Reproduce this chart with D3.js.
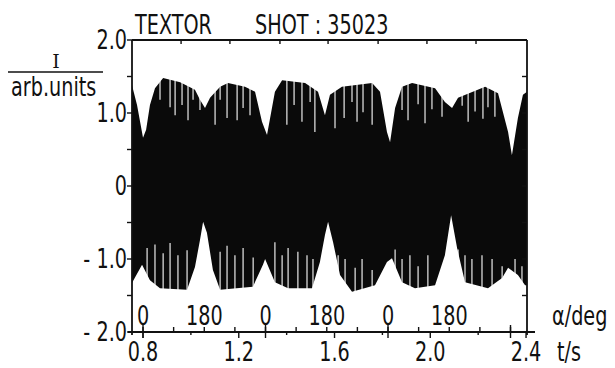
<!DOCTYPE html>
<html lang="en">
<head>
<meta charset="UTF-8">
<title>TEXTOR shot 35023</title>
<script src="https://d3js.org/d3.v7.min.js"></script>
<style>
  body { margin: 0; background: #fff; }
  text { font-family: "DejaVu Sans", sans-serif; fill: #111; }
</style>
</head>
<body>
<div id="chart"></div>
<script>
// envelope of the signal (t in s, I in arb. units)
var upperT = [0.754, 0.775, 0.800, 0.813, 0.829, 0.850, 0.884, 0.955, 1.017, 1.038, 1.059, 1.080, 1.122, 1.155, 1.226, 1.268,
              1.297, 1.318, 1.331, 1.351, 1.381, 1.477, 1.531, 1.560, 1.581, 1.631, 1.757, 1.790, 1.819, 1.832, 1.853, 1.882,
              1.924, 2.020, 2.061, 2.091, 2.116, 2.229, 2.283, 2.325, 2.341, 2.366, 2.387, 2.404]
var upperV = [1.38, 1.11, 0.66, 0.77, 1.11, 1.34, 1.48, 1.42, 1.32, 1.18, 1.07, 1.21, 1.36, 1.41, 1.36, 1.29,
              0.88, 0.70, 0.93, 1.29, 1.45, 1.41, 1.29, 0.97, 1.25, 1.36, 1.41, 1.29, 0.74, 0.60, 1.07, 1.36,
              1.41, 1.34, 1.15, 1.07, 1.21, 1.36, 1.27, 0.74, 0.42, 0.93, 1.25, 1.29]
var lowerT = [0.754, 0.767, 0.796, 0.829, 0.871, 0.984, 1.017, 1.038, 1.051, 1.067, 1.092, 1.122, 1.259, 1.301, 1.310, 1.351,
              1.406, 1.506, 1.539, 1.560, 1.573, 1.594, 1.623, 1.673, 1.769, 1.819, 1.840, 1.882, 1.936, 2.020, 2.061, 2.087,
              2.112, 2.145, 2.241, 2.300, 2.325, 2.366, 2.396, 2.404]
var lowerV = [-1.33, -1.25, -1.08, -1.29, -1.40, -1.42, -1.11, -0.74, -0.49, -0.64, -1.15, -1.42, -1.38, -1.08, -1.00, -1.32,
              -1.40, -1.40, -1.04, -0.67, -0.49, -0.77, -1.22, -1.45, -1.36, -1.04, -0.99, -1.32, -1.40, -1.36, -0.95, -0.40,
              -0.85, -1.32, -1.40, -1.26, -1.12, -1.22, -1.36, -1.36]

// white gaps between the oscillations at the top and bottom edge (t, lowest / highest value reached)
var topGapT = [0.871, 0.913, 0.934, 0.963, 0.988, 1.009, 1.038, 1.101, 1.122, 1.151, 1.193, 1.218, 1.247,
               1.401, 1.431, 1.464, 1.498, 1.518, 1.602, 1.640, 1.673, 1.694, 1.719, 1.757,
               1.882, 1.907, 1.949, 1.978, 2.007, 2.049, 2.133, 2.158, 2.187, 2.220, 2.241, 2.270]
var topGapV = [1.18, 1.08, 0.97, 1.11, 0.90, 1.18, 1.04, 0.84, 1.18, 0.93, 0.90, 1.07, 0.97,
               0.84, 1.11, 0.88, 1.15, 0.74, 0.79, 0.93, 1.15, 0.88, 1.01, 0.84,
               1.04, 0.90, 1.12, 0.86, 1.05, 0.95, 1.10, 0.88, 1.02, 0.92, 1.08, 0.95]
var bottomGapT = [0.817, 0.850, 0.884, 0.913, 0.946, 0.984, 1.122, 1.151, 1.184, 1.218, 1.260,
                  1.351, 1.381, 1.406, 1.447, 1.485, 1.510, 1.615, 1.644, 1.686, 1.715, 1.757,
                  1.853, 1.882, 1.915, 1.949, 1.990, 2.049, 2.116, 2.145, 2.174, 2.216, 2.258, 2.300, 2.354, 2.383]
var bottomGapV = [-0.85, -0.80, -0.92, -0.78, -0.95, -0.88, -0.90, -0.82, -0.95, -0.85, -0.98,
                  -0.77, -0.95, -0.85, -0.90, -0.95, -1.00, -0.95, -1.00, -1.12, -1.00, -1.15,
                  -0.87, -1.00, -0.95, -1.10, -0.95, -1.15, -0.87, -0.95, -1.00, -0.95, -1.00, -1.10, -1.00, -1.10]

// axis ticks and labels
var yTicks = [-2, -1.5, -1, -0.5, 0, 0.5, 1, 1.5, 2]
var yLabels = [{v: 2, s: "2.0"}, {v: 1, s: "1.0"}, {v: 0, s: "0"}, {v: -1, s: "- 1.0"}, {v: -2, s: "- 2.0"}]
var tMajor = [0.8, 1.2, 1.6, 2.0, 2.4]
var tLabels = ["0.8", "1.2", "1.6", "2.0", "2.4"]
var tMinor = [1.0, 1.4, 1.8, 2.2]
var topTicks = [0.959, 1.163, 1.372, 1.573, 1.782, 1.986, 2.191]
// alpha axis: one turn (360 deg) every 0.5117 s starting at 0.8 s
var alphaZeroT = [0.8, 1.3117, 1.8234, 2.3351]
var alphaTickT = [0.8, 0.9279, 1.0559, 1.1838, 1.3117, 1.4396, 1.5676, 1.6955, 1.8234, 1.9513, 2.0793, 2.2072, 2.3351]
var alphaLabT = [0.8, 1.0559, 1.3117, 1.5676, 1.8234, 2.0793]
var alphaLab = ["0", "180", "0", "180", "0", "180"]

var width = 615, height = 368
var squeeze = 0.74   // plotter lettering is narrow
var x = d3.scaleLinear().domain([0.754, 2.404]).range([132, 527])
var y = d3.scaleLinear().domain([-2, 2]).range([332, 40])

var svg = d3.select("#chart").append("svg")
    .attr("width", width)
    .attr("height", height)

function label(px, py, s, anchor, size) {
    svg.append("g")
        .attr("transform", "translate(" + px + "," + py + ") scale(" + squeeze + ",1)")
        .append("text")
        .attr("text-anchor", anchor || "start")
        .attr("font-size", size || 26)
        .text(s)
}

// signal band
var pts = upperT.map(function(t, i) { return [t, upperV[i]] })
    .concat(lowerT.map(function(t, i) { return [t, lowerV[i]] }).reverse())
var line = d3.line().x(function(d) { return x(d[0]) }).y(function(d) { return y(d[1]) })
svg.append("path")
    .attr("d", line(pts) + "Z")
    .attr("fill", "#0a0a0a")

svg.selectAll(".gapTop").data(topGapT).enter().append("line")
    .attr("x1", function(d) { return x(d) }).attr("x2", function(d) { return x(d) })
    .attr("y1", y(1.7)).attr("y2", function(d, i) { return y(topGapV[i]) })
    .attr("stroke", "#fff").attr("stroke-width", 1.1)
svg.selectAll(".gapBot").data(bottomGapT).enter().append("line")
    .attr("x1", function(d) { return x(d) }).attr("x2", function(d) { return x(d) })
    .attr("y1", y(-1.7)).attr("y2", function(d, i) { return y(bottomGapV[i]) })
    .attr("stroke", "#fff").attr("stroke-width", 1.1)

// frame
var ax = svg.append("g").attr("stroke", "#111").attr("stroke-width", 1.8).attr("fill", "none")
ax.append("line").attr("x1", x.range()[0]).attr("x2", x.range()[0]).attr("y1", y(2)).attr("y2", y(-2) + 3)
ax.append("line").attr("x1", x.range()[1]).attr("x2", x.range()[1]).attr("y1", y(2)).attr("y2", y(-2) + 3)
ax.append("line").attr("x1", x.range()[0]).attr("x2", x.range()[1]).attr("y1", y(2)).attr("y2", y(2))
ax.append("line").attr("x1", x.range()[0] - 4).attr("x2", x.range()[1] + 8).attr("y1", y(-2)).attr("y2", y(-2))

var tk = svg.append("g").attr("stroke", "#111").attr("stroke-width", 1.4)
yTicks.forEach(function(v) {
    tk.append("line").attr("x1", x.range()[0] - 5).attr("x2", x.range()[0]).attr("y1", y(v)).attr("y2", y(v))
    tk.append("line").attr("x1", x.range()[1] - 5).attr("x2", x.range()[1]).attr("y1", y(v)).attr("y2", y(v))
})
topTicks.forEach(function(t) {
    tk.append("line").attr("x1", x(t)).attr("x2", x(t)).attr("y1", y(2)).attr("y2", y(2) + 4)
})
tMajor.forEach(function(t) {
    tk.append("line").attr("x1", x(t)).attr("x2", x(t)).attr("y1", y(-2)).attr("y2", y(-2) + 6)
})
tMinor.forEach(function(t) {
    tk.append("line").attr("x1", x(t)).attr("x2", x(t)).attr("y1", y(-2)).attr("y2", y(-2) + 3)
})
alphaTickT.forEach(function(t) {
    tk.append("line").attr("x1", x(t)).attr("x2", x(t)).attr("y1", y(-2)).attr("y2", y(-2) - 5)
})
alphaZeroT.forEach(function(t) {
    tk.append("line").attr("x1", x(t)).attr("x2", x(t)).attr("y1", y(-2) - 7).attr("y2", y(-2) + 6)
})

// texts
yLabels.forEach(function(d) { label(127, y(d.v) + 9, d.s, "end") })
tMajor.forEach(function(t, i) { label(x(t), 361, tLabels[i], "middle") })
alphaLabT.forEach(function(t, i) { label(x(t), 325, alphaLab[i], "middle") })

label(552, 325, "α/deg")
label(557, 361, "t/s")
label(135, 34, "TEXTOR")
label(255, 34, "SHOT : 35023")
label(11, 96, "arb.units")

svg.append("text").attr("x", 56).attr("y", 68).attr("text-anchor", "middle")
    .style("font-family", "'DejaVu Serif', serif").attr("font-size", 19).text("I")
svg.append("line").attr("x1", 8).attr("x2", 103).attr("y1", 72).attr("y2", 72)
    .attr("stroke", "#111").attr("stroke-width", 1.6)
</script>
</body>
</html>
